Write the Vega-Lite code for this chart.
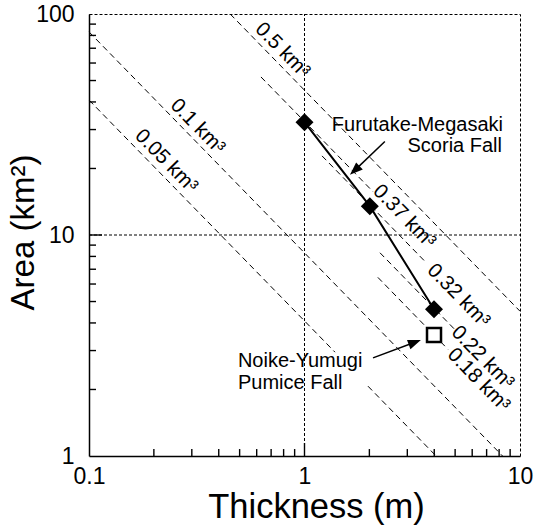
{
  "$schema": "https://vega.github.io/schema/vega-lite/v6.json",
  "width": 431,
  "height": 442,
  "autosize": {"type": "none"},
  "padding": {"left": 89, "top": 14, "right": 19, "bottom": 69},
  "background": "white",
  "config": {
    "font": "Liberation Sans",
    "view": {"stroke": "black", "strokeDash": [3, 2], "strokeWidth": 1},
    "text": {"font": "Liberation Sans", "color": "black"}
  },
  "datasets": {
    "grid": [
      {"T": 1, "A": 1, "T2": 1, "A2": 100},
      {"T": 0.1, "A": 10, "T2": 10, "A2": 10}
    ],
    "ticks": [
      {"T": 0.2, "A": 1, "T2": 0.2, "A2": 1.075}, {"T": 0.3, "A": 1, "T2": 0.3, "A2": 1.075},
      {"T": 0.4, "A": 1, "T2": 0.4, "A2": 1.075}, {"T": 0.5, "A": 1, "T2": 0.5, "A2": 1.075},
      {"T": 0.6, "A": 1, "T2": 0.6, "A2": 1.075}, {"T": 0.7, "A": 1, "T2": 0.7, "A2": 1.075},
      {"T": 0.8, "A": 1, "T2": 0.8, "A2": 1.075}, {"T": 0.9, "A": 1, "T2": 0.9, "A2": 1.075},
      {"T": 1, "A": 1, "T2": 1, "A2": 1.145},
      {"T": 2, "A": 1, "T2": 2, "A2": 1.075}, {"T": 3, "A": 1, "T2": 3, "A2": 1.075},
      {"T": 4, "A": 1, "T2": 4, "A2": 1.075}, {"T": 5, "A": 1, "T2": 5, "A2": 1.075},
      {"T": 6, "A": 1, "T2": 6, "A2": 1.075}, {"T": 7, "A": 1, "T2": 7, "A2": 1.075},
      {"T": 8, "A": 1, "T2": 8, "A2": 1.075}, {"T": 9, "A": 1, "T2": 9, "A2": 1.075},
      {"T": 0.1, "A": 2, "T2": 0.1078, "A2": 2}, {"T": 0.1, "A": 3, "T2": 0.1078, "A2": 3},
      {"T": 0.1, "A": 4, "T2": 0.1078, "A2": 4}, {"T": 0.1, "A": 5, "T2": 0.1078, "A2": 5},
      {"T": 0.1, "A": 6, "T2": 0.1078, "A2": 6}, {"T": 0.1, "A": 7, "T2": 0.1078, "A2": 7},
      {"T": 0.1, "A": 8, "T2": 0.1078, "A2": 8}, {"T": 0.1, "A": 9, "T2": 0.1078, "A2": 9},
      {"T": 0.1, "A": 10, "T2": 0.1149, "A2": 10},
      {"T": 0.1, "A": 20, "T2": 0.1078, "A2": 20}, {"T": 0.1, "A": 30, "T2": 0.1078, "A2": 30},
      {"T": 0.1, "A": 40, "T2": 0.1078, "A2": 40}, {"T": 0.1, "A": 50, "T2": 0.1078, "A2": 50},
      {"T": 0.1, "A": 60, "T2": 0.1078, "A2": 60}, {"T": 0.1, "A": 70, "T2": 0.1078, "A2": 70},
      {"T": 0.1, "A": 80, "T2": 0.1078, "A2": 80}, {"T": 0.1, "A": 90, "T2": 0.1078, "A2": 90}
    ],
    "iso": [
      {"line": "0.5", "T": 0.452, "A": 100},
      {"line": "0.5", "T": 10, "A": 4.52},
      {"line": "0.1", "T": 0.1, "A": 83.0},
      {"line": "0.1", "T": 8.3, "A": 1},
      {"line": "0.05a", "T": 0.1, "A": 40.8},
      {"line": "0.05a", "T": 1.385, "A": 2.95},
      {"line": "0.05b", "T": 1.97, "A": 2.07},
      {"line": "0.05b", "T": 4.08, "A": 1},
      {"line": "0.37", "T": 0.628, "A": 51.9},
      {"line": "0.37", "T": 2.08, "A": 15.7},
      {"line": "0.32", "T": 1.206, "A": 22.8},
      {"line": "0.32", "T": 3.62, "A": 7.6},
      {"line": "0.22", "T": 2.24, "A": 8.31},
      {"line": "0.22", "T": 4.99, "A": 3.73},
      {"line": "0.18", "T": 2.19, "A": 6.43},
      {"line": "0.18", "T": 4.63, "A": 3.04}
    ],
    "furutake": [
      {"T": 1.0, "A": 32.4},
      {"T": 2.01, "A": 13.5},
      {"T": 3.99, "A": 4.61}
    ],
    "noike": [
      {"T": 3.99, "A": 3.53}
    ],
    "arrows": [
      {"T": 2.36, "A": 26.5, "T2": 1.71, "A2": 19.6},
      {"T": 2.08, "A": 2.78, "T2": 3.25, "A2": 3.27}
    ],
    "head1": [{"T": 1.71, "A": 19.6}],
    "head2": [{"T": 3.25, "A": 3.27}],
    "isoLabels": [
      {"label": "0.5 km³", "T": 0.79, "A": 68.5},
      {"label": "0.1 km³", "T": 0.319, "A": 31.0},
      {"label": "0.05 km³", "T": 0.228, "A": 21.6},
      {"label": "0.37 km³", "T": 2.9, "A": 12.13},
      {"label": "0.32 km³", "T": 5.18, "A": 5.32},
      {"label": "0.22 km³", "T": 6.7, "A": 2.79},
      {"label": "0.18 km³", "T": 6.42, "A": 2.21}
    ],
    "annRight": [
      {"label": "Furutake-Megasaki", "T": 8.34, "A": 31.6},
      {"label": "Scoria Fall", "T": 8.25, "A": 25.3}
    ],
    "annLeft": [
      {"label": "Noike-Yumugi", "T": 0.491, "A": 2.68},
      {"label": "Pumice Fall", "T": 0.491, "A": 2.15}
    ]
  },
  "encoding": {
    "x": {
      "field": "T",
      "type": "quantitative",
      "scale": {"type": "log", "domain": [0.1, 10], "nice": false},
      "axis": {
        "title": "Thickness (m)",
        "values": [0.1, 1, 10],
        "format": "~g",
        "ticks": false,
        "domainColor": "black",
        "domainWidth": 1.5,
        "grid": false,
        "labelFont": "Liberation Sans",
        "labelFontSize": 23,
        "labelColor": "black",
        "labelPadding": 9,
        "labelFlush": false,
        "labelOverlap": false,
        "labelBound": false,
        "encode": {"labels": {"update": {"dx": {"signal": "datum.value == 0.1 ? 12 : (datum.value == 1 ? -6 : 7)"}}}},
        "titleFont": "Liberation Sans",
        "titleFontSize": 34.5,
        "titleFontWeight": "normal",
        "titleColor": "black",
        "titleX": 227,
        "titleY": 51,
        "titleBaseline": "middle",
        "titleAlign": "center"
      }
    },
    "y": {
      "field": "A",
      "type": "quantitative",
      "scale": {"type": "log", "domain": [1, 100], "nice": false},
      "axis": {
        "title": "Area (km²)",
        "values": [1, 10, 100],
        "format": "~g",
        "ticks": false,
        "domainColor": "black",
        "domainWidth": 1.5,
        "grid": false,
        "labelFont": "Liberation Sans",
        "labelFontSize": 23,
        "labelColor": "black",
        "labelPadding": 15,
        "labelFlush": false,
        "labelOverlap": false,
        "labelBound": false,
        "labelBaseline": "middle",
        "encode": {"labels": {"update": {"dy": {"value": 3}}}},
        "titleFont": "Liberation Sans",
        "titleFontSize": 33,
        "titleFontWeight": "normal",
        "titleColor": "black",
        "titleX": -66,
        "titleY": 218,
        "titleAngle": -90,
        "titleBaseline": "middle",
        "titleAlign": "center"
      }
    }
  },
  "layer": [
    {
      "data": {"name": "grid"},
      "mark": {"type": "rule", "color": "black", "strokeWidth": 1, "strokeDash": [3, 2]},
      "encoding": {"x2": {"field": "T2"}, "y2": {"field": "A2"}}
    },
    {
      "data": {"name": "ticks"},
      "mark": {"type": "rule", "color": "black", "strokeWidth": 1.4},
      "encoding": {"x2": {"field": "T2"}, "y2": {"field": "A2"}}
    },
    {
      "data": {"name": "iso"},
      "mark": {"type": "line", "color": "black", "strokeWidth": 1, "strokeDash": [6, 4]},
      "encoding": {"detail": {"field": "line", "type": "nominal"}}
    },
    {
      "data": {"name": "furutake"},
      "mark": {"type": "line", "color": "black", "strokeWidth": 2}
    },
    {
      "data": {"name": "furutake"},
      "mark": {"type": "point", "shape": "diamond", "filled": true, "color": "black", "opacity": 1, "size": 324}
    },
    {
      "data": {"name": "noike"},
      "mark": {"type": "point", "shape": "square", "filled": true, "fill": "white", "stroke": "black", "strokeWidth": 2.5, "opacity": 1, "size": 196}
    },
    {
      "data": {"name": "arrows"},
      "mark": {"type": "rule", "color": "black", "strokeWidth": 1.5},
      "encoding": {"x2": {"field": "T2"}, "y2": {"field": "A2"}}
    },
    {
      "data": {"name": "head1"},
      "mark": {"type": "point", "shape": "M0,-1L0.75,1L-0.75,1Z", "filled": true, "color": "black", "opacity": 1, "size": 169, "angle": 227}
    },
    {
      "data": {"name": "head2"},
      "mark": {"type": "point", "shape": "M0,-1L0.75,1L-0.75,1Z", "filled": true, "color": "black", "opacity": 1, "size": 169, "angle": 69.4}
    },
    {
      "data": {"name": "isoLabels"},
      "mark": {"type": "text", "angle": 45.7, "fontSize": 20.5, "align": "center", "baseline": "middle", "color": "black"},
      "encoding": {"text": {"field": "label"}}
    },
    {
      "data": {"name": "annRight"},
      "mark": {"type": "text", "fontSize": 20, "align": "right", "baseline": "middle", "color": "black"},
      "encoding": {"text": {"field": "label"}}
    },
    {
      "data": {"name": "annLeft"},
      "mark": {"type": "text", "fontSize": 20, "align": "left", "baseline": "middle", "color": "black"},
      "encoding": {"text": {"field": "label"}}
    }
  ]
}
